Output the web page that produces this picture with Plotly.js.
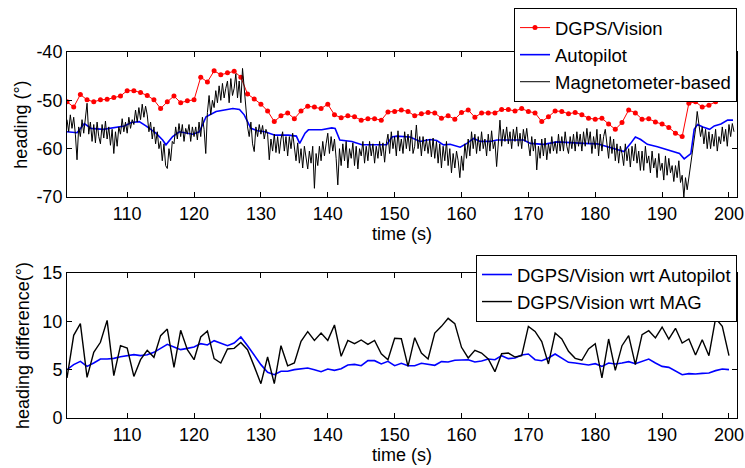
<!DOCTYPE html>
<html>
<head>
<meta charset="utf-8">
<script src="https://cdn.plot.ly/plotly-3.0.1.min.js"></script>
<style>html,body{margin:0;padding:0;background:#fff;}#chart{width:745px;height:468px;}</style>
</head>
<body>
<div id="chart"></div>
<script>
// ---------- DATA ----------
// DGPS/Vision heading, one sample per second from t = 101 s
const DGPS_T0 = 101;
const dgpsHeading = [
 -50.3,-51.4,-48.8,-49.9,-50.3,-49.9,-49.8,-49.4,-49.1,-48.0,
 -48.0,-48.4,-49.0,-49.9,-51.7,-50.3,-49.1,-50.5,-50.1,-49.9,
 -45.2,-46.2,-43.9,-44.7,-44.3,-44.0,-45.2,-48.7,-49.7,-50.8,
 -52.2,-54.4,-53.2,-52.6,-53.8,-52.2,-51.2,-51.4,-51.7,-50.8,
 -53.0,-53.6,-53.2,-53.4,-54.1,-53.8,-53.8,-54.1,-52.4,-52.3,
 -52.0,-52.3,-53.2,-52.8,-52.5,-52.6,-53.7,-53.2,-53.9,-52.5,
 -52.0,-53.5,-52.6,-52.6,-52.6,-51.9,-51.9,-52.2,-51.7,-52.3,
 -52.6,-54.4,-53.4,-52.2,-52.3,-52.8,-52.5,-53.0,-53.7,-53.9,
 -53.7,-54.9,-56.0,-54.6,-52.0,-52.6,-53.9,-53.8,-54.5,-54.9,
 -55.6,-56.8,-57.5,-50.6,-50.3,-51.4,-51.0,-50.3,-49.5,-49.5
];

// Autopilot heading (read at the line's turning points)
const autopilotT = [
 101.0,102.5,103.6,104.6,106.4,108.1,109.6,110.6,111.8,112.8,114.3,115.3,115.8,116.8,117.8,119.0,119.8,120.8,
 121.8,123.3,124.3,125.8,126.8,127.5,128.5,129.5,130.6,132.1,134.1,135.3,135.8,136.6,137.1,139.1,140.6,141.1,
 141.8,143.6,145.1,147.6,148.8,149.6,150.3,152.3,153.8,155.3,156.3,157.3,158.3,159.8,160.8,161.8,162.8,164.3,
 165.3,167.3,169.3,170.3,172.3,174.3,176.3,178.3,180.3,181.8,184.3,185.3,186.0,186.8,187.8,189.3,191.3,192.6,
 193.3,194.3,194.8,195.3,196.1,197.1,197.8,198.8,199.8,200.6
];
const autopilotHeading = [
 -56.5,-56.7,-54.8,-55.8,-56.0,-55.6,-55.3,-54.6,-54.4,-55.3,-56.8,-58.2,-59.2,-57.5,-56.5,-56.8,-57.0,-56.5,
 -53.4,-52.3,-52.0,-51.7,-51.9,-53.0,-55.8,-56.3,-56.5,-57.2,-57.2,-57.4,-58.9,-56.8,-56.1,-56.1,-55.7,-55.8,
 -58.2,-58.5,-59.2,-59.3,-59.2,-57.6,-57.4,-57.6,-58.5,-58.1,-58.3,-59.2,-59.1,-59.7,-58.9,-57.9,-58.5,-58.5,
 -58.2,-58.2,-58.2,-58.9,-59.1,-58.6,-58.8,-58.9,-59.0,-59.6,-60.6,-58.9,-57.6,-58.1,-59.1,-59.6,-60.5,-61.0,
 -62.1,-61.0,-56.0,-55.0,-55.5,-56.0,-55.3,-54.9,-54.1,-54.1
];

// Magnetometer-based heading, sampled every 0.25 s from t = 101 s
const MAG_T0 = 101, MAG_DT = 0.25;
const magHeading = [
 -54.0,-56.5,-53.0,-55.8,  -53.5,-57.0,-62.3,-55.5,  -57.5,-54.0,-56.8,-53.5,  -50.6,-57.0,-54.5,-58.5,
 -55.0,-58.8,-54.5,-57.5,  -59.0,-55.0,-57.8,-54.3,  -58.0,-55.5,-59.3,-56.0,  -61.0,-56.5,-59.5,-55.5,
 -57.0,-53.8,-56.5,-54.5,  -56.8,-53.5,-55.8,-54.0,  -55.0,-52.0,-54.5,-51.5,  -54.0,-50.8,-53.5,-51.2,
 -53.0,-56.5,-54.5,-58.0,  -55.5,-59.0,-56.5,-60.0,  -58.5,-62.5,-59.0,-63.5,  -64.1,-60.0,-62.5,-58.5,
 -59.0,-55.5,-58.0,-54.8,  -57.5,-55.0,-58.5,-55.8,  -57.0,-55.0,-58.5,-55.5,  -57.5,-55.5,-58.2,-54.5,
 -57.5,-53.5,-56.0,-61.0,  -52.5,-49.0,-53.0,-50.0,  -51.5,-48.0,-50.5,-47.0,  -50.0,-46.5,-49.5,-47.5,
 -46.0,-50.5,-45.5,-49.0,  -47.5,-44.5,-49.5,-46.0,  -50.5,-43.4,-48.0,-52.0,  -55.5,-57.5,-54.5,-59.0,
 -60.6,-55.5,-57.5,-55.0,  -57.0,-55.2,-58.0,-56.0,  -57.0,-62.3,-58.0,-60.5,  -57.0,-60.8,-57.5,-61.0,
 -58.0,-56.5,-60.5,-57.5,  -61.5,-57.5,-60.0,-56.8,  -59.5,-62.5,-58.8,-63.0,  -60.0,-64.0,-59.5,-62.0,
 -64.2,-60.5,-63.0,-59.5,  -68.2,-61.0,-63.5,-59.5,  -62.5,-58.5,-61.5,-59.0,  -56.8,-61.0,-57.5,-60.5,
 -58.0,-62.0,-67.5,-60.0,  -63.5,-59.0,-62.5,-58.5,  -64.0,-60.0,-62.0,-58.8,  -63.5,-59.5,-64.2,-60.0,
 -61.5,-58.5,-63.0,-59.5,  -62.5,-58.5,-61.5,-59.0,  -63.0,-59.5,-62.0,-58.5,  -61.5,-58.8,-62.8,-59.0,
 -57.0,-61.0,-56.5,-60.0,  -57.5,-61.5,-56.3,-60.5,  -58.0,-61.0,-56.5,-60.0,  -57.0,-60.5,-56.2,-61.0,
 -59.5,-55.1,-60.0,-57.5,  -61.5,-57.5,-60.5,-58.0,  -61.0,-58.0,-61.7,-57.8,  -62.0,-58.5,-63.0,-59.0,
 -64.0,-59.5,-62.5,-58.5,  -63.5,-60.0,-65.0,-61.0,  -64.0,-60.5,-62.5,-66.0,  -61.5,-64.5,-59.0,-62.0,
 -58.0,-61.5,-56.5,-60.0,  -57.0,-61.0,-57.5,-60.5,  -56.5,-60.0,-58.0,-61.5,  -57.0,-60.5,-56.3,-60.0,
 -58.5,-63.7,-58.0,-54.1,  -59.5,-56.0,-58.5,-55.5,  -59.0,-56.5,-60.0,-56.0,  -58.5,-55.5,-59.5,-56.8,
 -60.0,-56.0,-58.5,-55.8,  -59.0,-61.5,-57.5,-60.5,  -58.0,-64.4,-59.5,-62.0,  -58.0,-61.5,-57.8,-62.3,
 -59.0,-61.0,-57.5,-60.5,  -58.5,-61.0,-57.0,-60.5,  -57.5,-60.5,-56.5,-59.5,  -61.0,-57.5,-60.0,-57.0,
 -60.5,-56.5,-59.5,-57.0,  -60.5,-56.5,-59.5,-55.8,  -59.0,-56.5,-61.0,-57.5,  -60.0,-56.0,-61.5,-57.0,
 -60.5,-57.5,-56.0,-59.0,  -62.0,-57.5,-61.0,-58.0,  -62.5,-59.0,-63.0,-59.5,  -61.0,-63.5,-59.0,-62.5,
 -60.0,-63.8,-59.5,-62.5,  -59.0,-63.0,-60.5,-64.5,  -60.5,-64.5,-59.5,-63.0,  -61.5,-65.0,-60.5,-64.0,
 -62.0,-66.0,-61.0,-64.5,  -63.0,-66.5,-61.5,-65.5,  -62.0,-65.0,-63.5,-66.8,  -63.5,-66.0,-62.5,-67.0,
 -65.5,-70.0,-66.0,-68.5,  -66.0,-64.0,-62.0,-58.5,  -56.0,-52.3,-55.0,-57.5,  -55.5,-59.0,-56.0,-60.0,
 -56.5,-60.0,-57.0,-59.5,  -56.0,-60.5,-57.5,-59.0,  -55.5,-58.5,-56.0,-59.5,  -55.0,-57.5,-54.8,-56.5
];

// Heading differences, one per second from t = 101 s
const DIFF_T0 = 101;
const diffWrtAutopilot = [
 5.0,5.52,5.86,5.34,5.69,6.1,6.1,6.17,6.34,6.48,
 6.55,6.45,6.55,6.79,7.17,7.62,7.34,7.07,7.2,7.34,
 7.69,7.55,8.0,7.76,7.48,7.76,8.38,7.48,6.45,5.52,
 4.72,4.48,4.83,4.83,5.0,5.07,5.17,5.0,4.79,5.07,
 4.93,5.1,5.48,5.55,5.41,5.93,5.93,5.59,5.86,5.41,
 5.66,5.41,5.41,5.66,5.52,5.45,5.83,5.79,5.97,6.0,
 6.03,5.79,5.9,6.1,6.03,6.45,6.14,6.2,6.52,6.62,
 6.03,5.93,6.21,6.62,6.17,5.76,5.69,5.62,5.48,5.62,
 5.34,5.69,5.59,5.69,5.83,5.62,5.83,6.1,5.69,5.34,
 5.24,4.83,4.48,4.59,4.55,4.62,4.66,4.9,5.07,5.0
];
const diffWrtMag = [
 4.14,8.55,9.76,4.2,6.8,7.83,10.1,4.38,7.48,7.24,
 4.3,6.03,7.0,6.28,8.52,9.2,5.24,9.07,7.07,6.03,
 8.38,9.0,6.14,5.69,7.14,7.2,7.82,7.07,5.34,3.55,
 6.31,3.55,7.48,5.4,5.7,7.93,8.93,8.03,8.79,8.03,
 9.62,6.38,8.03,7.69,8.07,7.62,8.03,6.65,6.03,8.24,
 8.2,5.34,8.31,6.72,6.1,8.79,9.48,10.31,9.76,7.31,
 6.21,7.0,6.72,6.1,4.79,6.65,6.72,6.31,6.45,9.48,
 8.96,7.9,5.59,8.79,8.17,6.9,6.17,5.97,7.14,7.69,
 4.14,8.17,4.93,7.48,8.52,5.52,8.62,9.03,8.28,9.41,
 8.17,9.28,7.76,8.17,6.52,8.1,6.45,10.31,9.48,6.45
];

const timeTicks = [110,120,130,140,150,160,170,180,190,200];
const headingTicks = [-70,-60,-50,-40];
const diffTicks = [0,5,10,15];

// ---------- BUILD ----------
const dgpsT = dgpsHeading.map((_, i) => DGPS_T0 + i);
const magT = magHeading.map((_, i) => MAG_T0 + i * MAG_DT);
const diffT = diffWrtMag.map((_, i) => DIFF_T0 + i);

const FONT = 'Liberation Sans, Arial, Helvetica, sans-serif';

const traces = [
  {x: dgpsT, y: dgpsHeading, name: 'DGPS/Vision', mode: 'lines+markers', xaxis: 'x', yaxis: 'y',
   line: {color: '#ff0000', width: 1}, marker: {color: '#ff0000', size: 5}, legend: 'legend'},
  {x: autopilotT, y: autopilotHeading, name: 'Autopilot', mode: 'lines', xaxis: 'x', yaxis: 'y',
   line: {color: '#0000ff', width: 1.6}, legend: 'legend'},
  {x: magT, y: magHeading, name: 'Magnetometer-based', mode: 'lines', xaxis: 'x', yaxis: 'y',
   line: {color: '#000000', width: 1}, legend: 'legend'},
  {x: diffT, y: diffWrtAutopilot, name: 'DGPS/Vision wrt Autopilot', mode: 'lines', xaxis: 'x2', yaxis: 'y2',
   line: {color: '#0000ff', width: 1.6}, legend: 'legend2'},
  {x: diffT, y: diffWrtMag, name: 'DGPS/Vision wrt MAG', mode: 'lines', xaxis: 'x2', yaxis: 'y2',
   line: {color: '#000000', width: 1.4}, legend: 'legend2'}
];

const axisCommon = {
  showline: true, linecolor: '#000', linewidth: 1, mirror: 'allticks',
  ticks: 'inside', ticklen: 5, tickcolor: '#000', tickwidth: 1,
  showgrid: false, zeroline: false, automargin: false,
  tickfont: {family: FONT, size: 18, color: '#000'}
};
const titleFont = {family: FONT, size: 18, color: '#000'};
const legendFont = {family: FONT, size: 18.5, color: '#000'};

const layout = {
  width: 745, height: 468,
  margin: {l: 67, r: 8, t: 52, b: 50},
  paper_bgcolor: '#fff', plot_bgcolor: '#fff',
  font: {family: FONT, color: '#000'},
  xaxis: Object.assign({}, axisCommon, {domain: [0, 1], anchor: 'y', range: [101, 201.2],
    tickmode: 'array', tickvals: timeTicks, ticktext: timeTicks.map(String),
    title: {text: 'time (s)', font: titleFont, standoff: 1}}),
  yaxis: Object.assign({}, axisCommon, {domain: [0.6038, 1], anchor: 'x', range: [-70, -40],
    tickmode: 'array', tickvals: headingTicks, ticktext: headingTicks.map(String),
    title: {text: 'heading (°)', font: titleFont, standoff: 4}}),
  xaxis2: Object.assign({}, axisCommon, {domain: [0, 1], anchor: 'y2', range: [101, 201.2],
    tickmode: 'array', tickvals: timeTicks, ticktext: timeTicks.map(String),
    title: {text: 'time (s)', font: titleFont, standoff: 1}}),
  yaxis2: Object.assign({}, axisCommon, {domain: [0, 0.3962], anchor: 'x2', range: [0, 15],
    tickmode: 'array', tickvals: diffTicks, ticktext: diffTicks.map(String),
    title: {text: 'heading difference(°)', font: titleFont, standoff: 8}}),
  legend: {x: 1, xanchor: 'right', y: 1.12, yanchor: 'top', bgcolor: '#fff',
    bordercolor: '#000', borderwidth: 1, font: legendFont,
    tracegroupgap: 0, traceorder: 'normal'},
  legend2: {x: 1, xanchor: 'right', y: 0.4454, yanchor: 'top', bgcolor: '#fff',
    bordercolor: '#000', borderwidth: 1, font: legendFont,
    tracegroupgap: 0, traceorder: 'normal'},
  showlegend: true
};

Plotly.newPlot('chart', traces, layout, {displayModeBar: false, staticPlot: true});
</script>
</body>
</html>
